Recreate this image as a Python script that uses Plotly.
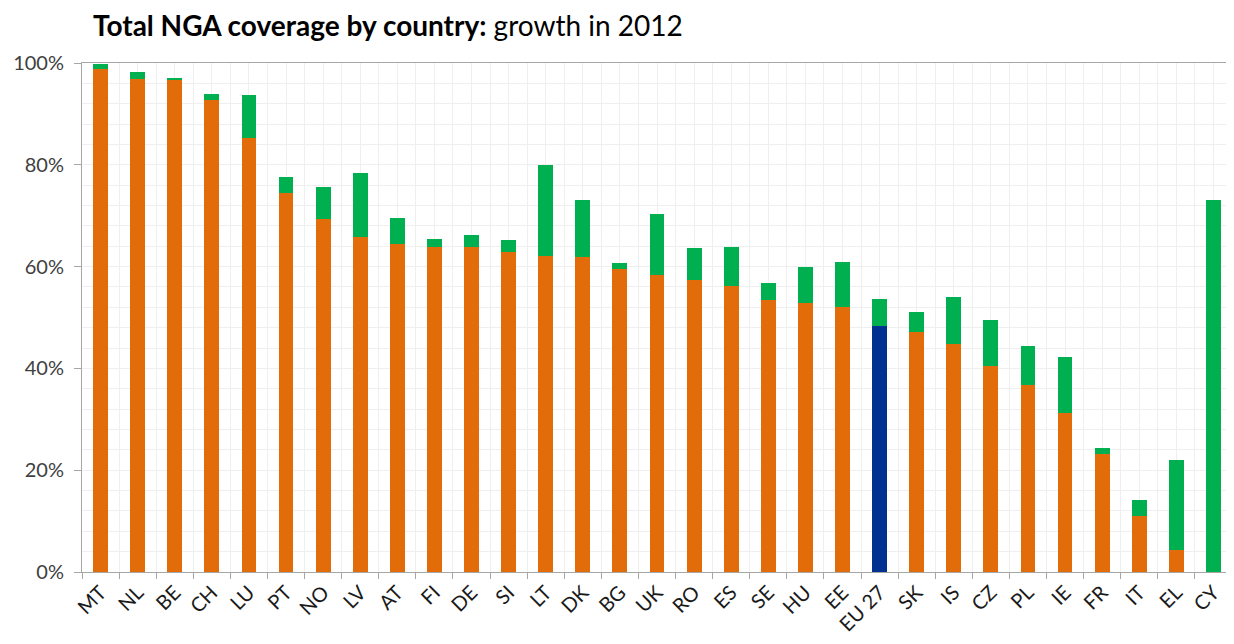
import plotly.graph_objects as go

# Länder (Reihenfolge wie im Original)
countries = ["MT", "NL", "BE", "CH", "LU", "PT", "NO", "LV", "AT", "FI", "DE", "SI", "LT", "DK", "BG",
             "UK", "RO", "ES", "SE", "HU", "EE", "EU 27", "SK", "IS", "CZ", "PL", "IE", "FR", "IT", "EL", "CY"]

# NGA-Abdeckung Ende 2011 (in %)
coverage_2011 = [98.8, 96.9, 96.7, 92.7, 85.2, 74.5, 69.3, 65.9, 64.4, 63.9, 63.9, 62.8, 62.1, 61.9, 59.5,
                 58.3, 57.3, 56.1, 53.5, 52.8, 52.1, 48.3, 47.2, 44.7, 40.4, 36.8, 31.3, 23.2, 11.0, 4.4, 0.0]

# Zuwachs im Jahr 2012 (in Prozentpunkten)
growth_2012 = [1.1, 1.4, 0.3, 1.3, 8.6, 3.2, 6.3, 12.4, 5.2, 1.6, 2.3, 2.4, 17.9, 11.1, 1.3,
               12.0, 6.4, 7.8, 3.2, 7.1, 8.9, 5.4, 3.8, 9.4, 9.1, 7.7, 10.9, 1.2, 3.1, 17.7, 73.0]

y_ticks = [0, 20, 40, 60, 80, 100]
y_labels = ["0%", "20%", "40%", "60%", "80%", "100%"]

ORANGE = "#E36C0A"
GREEN = "#00B050"
BLUE = "#003090"
FONT = "Lato"

# Seite hat 8px Rand (body margin) -> Figur etwas kleiner
W, H = 1226, 636

x_pos = list(range(len(countries)))
base_colors = [BLUE if c == "EU 27" else ORANGE for c in countries]

fig = go.Figure()

# Sockel 2011
fig.add_trace(go.Bar(x=x_pos, y=coverage_2011, width=0.4,
                     marker=dict(color=base_colors, line=dict(width=0)),
                     name="2011", showlegend=False))
# Zuwachs 2012
fig.add_trace(go.Bar(x=x_pos, y=growth_2012, width=0.4,
                     marker=dict(color=GREEN, line=dict(width=0)),
                     name="growth 2012", showlegend=False))

fig.update_layout(
    barmode="stack",
    width=W, height=H,
    margin=dict(l=74, r=2, t=55, b=72, autoexpand=False),
    plot_bgcolor="white", paper_bgcolor="white",
    font=dict(family=FONT, color="#404040", size=20),
    title=dict(text="<b>Total NGA coverage by country:</b> growth in 2012",
               x=85 / W, xanchor="left", xref="container",
               y=1 - 18 / H, yanchor="middle", yref="container",
               font=dict(family=FONT, size=28, color="black")),
    xaxis=dict(
        range=[-0.5, len(countries) - 0.5],
        tickmode="array", tickvals=x_pos, ticktext=countries,
        tickangle=-45, ticks="", automargin=False,
        showgrid=True, gridcolor="#EFEFEF", gridwidth=1,
        showline=True, linecolor="#A6A6A6", linewidth=1, mirror=True,
        zeroline=False,
        tickfont=dict(size=20, color="#1a1a1a"),
        minor=dict(tickmode="array", tickvals=[i - 0.5 for i in range(len(countries) + 1)],
                   ticks="outside", ticklen=6, tickcolor="#A6A6A6",
                   showgrid=True, gridcolor="#EFEFEF", gridwidth=1),
    ),
    yaxis=dict(
        range=[0, 100], automargin=False,
        tickmode="array", tickvals=y_ticks, ticktext=y_labels,
        ticks="outside", ticklen=7, tickcolor="#A6A6A6",
        ticklabelstandoff=6,
        showgrid=True, gridcolor="#EFEFEF", gridwidth=1,
        showline=True, linecolor="#A6A6A6", linewidth=1,
        zeroline=False,
        minor=dict(dtick=4, showgrid=True, gridcolor="#EFEFEF", gridwidth=1),
    ),
)

fig.write_html("out.html")
